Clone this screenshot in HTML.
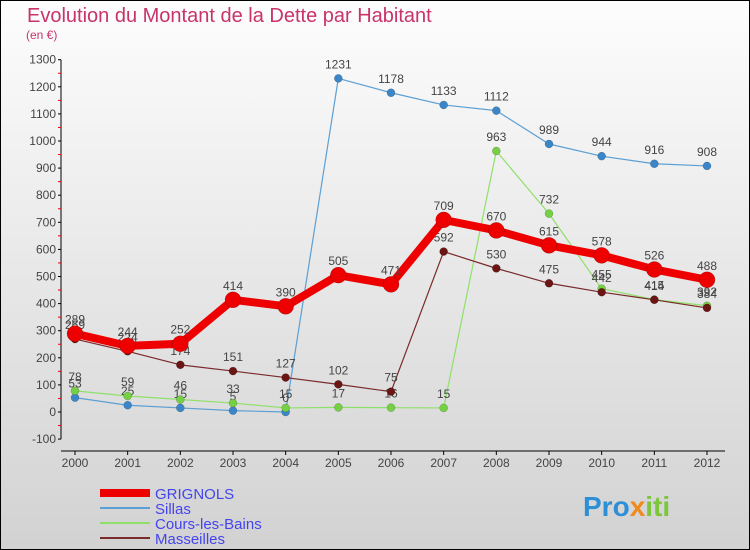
<!DOCTYPE html>
<html><head><meta charset="utf-8"><style>
html,body{margin:0;padding:0;}
body{width:750px;height:550px;overflow:hidden;font-family:"Liberation Sans",sans-serif;}
svg{display:block;}
</style></head><body>
<svg id="chart" width="750" height="550">
<defs><linearGradient id="bg" x1="0" y1="0" x2="0" y2="1"><stop offset="0" stop-color="#fdfdfd"/><stop offset="1" stop-color="#d2d2d2"/></linearGradient></defs>
<rect x="0.5" y="0.5" width="749" height="549" fill="url(#bg)" stroke="#000"/>
<text x="27" y="22" font-size="20" fill="#c8336a">Evolution du Montant de la Dette par Habitant</text>
<text x="26" y="39" font-size="12" fill="#c8336a">(en €)</text>
<g id="axes"></g>
<g id="series"></g>
<g id="legend"></g>
<text x="583" y="516" font-size="28" font-weight="bold" fill="#2d8fd6">Pro<tspan fill="#f08a1c">x</tspan><tspan fill="#7cc63a">iti</tspan></text>
</svg>
<script>
const years = [2000,2001,2002,2003,2004,2005,2006,2007,2008,2009,2010,2011,2012];
const grignols = [289,244,252,414,390,505,471,709,670,615,578,526,488];
const sillas = [53,25,15,5,0,1231,1178,1133,1112,989,944,916,908];
const cours = [78,59,46,33,15,17,16,15,963,732,455,415,392];
const masseilles = [269,224,174,151,127,102,75,592,530,475,442,414,384];
const yTicks = [-100,0,100,200,300,400,500,600,700,800,900,1000,1100,1200,1300];
const NS="http://www.w3.org/2000/svg";
const x = i => 75 + i*(707-75)/12;
const y = v => 412 - v*(412-59.7)/1300;
function mk(tag, attrs, parent){const e=document.createElementNS(NS,tag);for(const k in attrs)e.setAttribute(k,attrs[k]);parent.appendChild(e);return e;}
const axes=document.getElementById('axes');
let l=mk('line',{x1:61,y1:y(1300),x2:61,y2:y(-100),stroke:'#000'},axes);


l=mk('line',{x1:61,y1:451,x2:725,y2:451,stroke:'#000'},axes);


yTicks.forEach(v=>{
  mk('line',{x1:58,y1:y(v),x2:61,y2:y(v),stroke:'#000'},axes);
  if(v<1300) mk('line',{x1:58,y1:y(v+50),x2:61,y2:y(v+50),stroke:'#e00'},axes);
  const t=mk('text',{x:56,y:y(v)+4,'text-anchor':'end','font-size':12,fill:'#444'},axes);
  t.textContent=v;
  
  
});
years.forEach((yr,i)=>{
  mk('line',{x1:x(i),y1:451,x2:x(i),y2:455,stroke:'#000'},axes);
  const t=mk('text',{x:x(i),y:467,'text-anchor':'middle','font-size':12,fill:'#444'},axes);
  t.textContent=yr;
  
  
});
const ser=document.getElementById('series');
function draw(vals,color,w,r,name,dot){
  const g=mk('g',{},ser);
  
  
  mk('polyline',{points:vals.map((v,i)=>x(i)+','+y(v)).join(' '),fill:'none',stroke:color,'stroke-width':w,'stroke-linejoin':'round'},g);
  vals.forEach((v,i)=>{
    const c=mk('circle',{cx:x(i),cy:y(v),r:r,fill:dot,stroke:'rgba(0,0,0,0.3)','stroke-width':0.5},g);
    
    
    const t=mk('text',{x:x(i),y:y(v)-10,'text-anchor':'middle','font-size':12,fill:'#444'},g);
    t.textContent=v;
    
    
  });
}
draw(sillas,'#5b9fd4',1.2,4,'sillas-series','#3a86c8');
draw(cours,'#8fe06a',1.2,4,'cours-series','#76d044');
draw(masseilles,'#7a2a2a',1.2,4,'masseilles-series','#6b1515');
draw(grignols,'#ee0000',8,8,'grignols-series','#ee0000');
const leg=document.getElementById('legend');
const items=[['GRIGNOLS','#ee0000',8],['Sillas','#5b9fd4',2],['Cours-les-Bains','#8fe06a',2],['Masseilles','#7a2a2a',2]];
items.forEach((it,k)=>{
  const g=mk('g',{},leg);
  
  
  const yy=493+k*15;
  mk('line',{x1:100,y1:yy,x2:150,y2:yy,stroke:it[1],'stroke-width':it[2]},g);
  const t=mk('text',{x:155,y:yy+6,'font-size':15,fill:'#4444ee'},g);
  t.textContent=it[0];
});
</script>
</body></html>
